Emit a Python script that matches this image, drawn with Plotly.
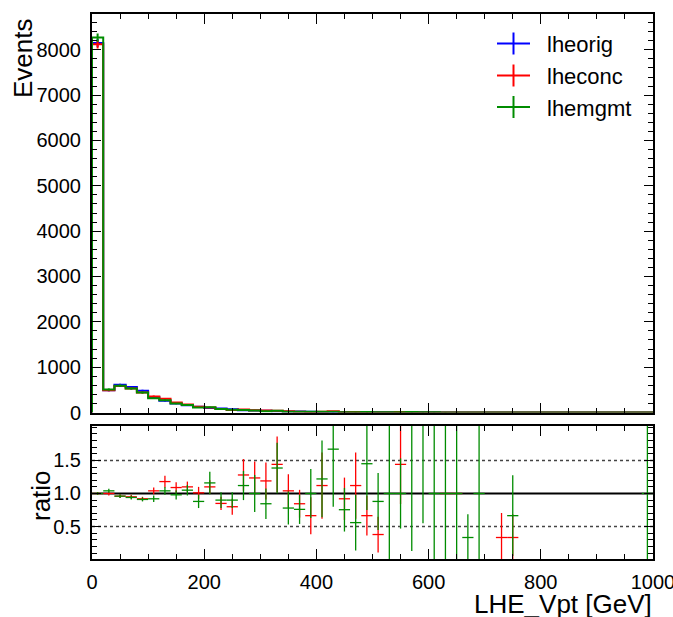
import plotly.graph_objects as go

# ---------------- data ----------------
bin_edges = list(range(0, 1001, 20))  # LHE_Vpt bins [GeV]

lheorig = [8150, 490, 610, 560, 480, 340, 260, 200, 160, 128, 100, 88, 70, 50, 42, 36, 27, 24, 20, 17,
           13, 11, 9, 8, 7, 6, 5, 4, 4, 3, 3, 2.5, 2, 2, 1.5, 1.5, 1.2, 1, 1, 0.8,
           0.8, 0.6, 0.6, 0.5, 0.5, 0.4, 0.4, 0.3, 0.3, 0.3]
lheconc = [8120, 490, 585, 530, 440, 355, 305, 218, 176, 129, 110, 75, 56, 64, 52, 43, 39, 25, 17, 11,
           15, 30, 8, 9, 5, 2, 0, 9, 0, 0, 0, 2.5, 2, 0, 0, 0, 0.4, 0.3, 0, 0,
           0, 0, 0, 0, 0, 0, 0, 0, 0, 0]
lhemgmt = [8270, 505, 590, 530, 440, 315, 270, 196, 168, 113, 116, 79, 63, 56, 42, 30, 37, 19, 15, 17,
           16, 18, 7, 4.5, 9, 5, 5, 4, 10, 7, 3, 2.5, 2, 0.7, 1.5, 0, 0, 0.7, 0, 0,
           0, 0, 0, 0, 0, 0, 0, 0, 0, 0.3]
hist_err = [90, 22, 25, 24, 22, 18, 16, 14, 13, 11, 10, 9, 8, 7, 6, 6, 5, 5, 4, 4,
            4, 3, 3, 3, 3, 2, 2, 2, 2, 2, 2, 2, 1, 1, 1, 1, 1, 1, 1, 1,
            1, 1, 1, 1, 1, 1, 1, 1, 1, 1]

N = None
ratio_conc = [1.00, 1.00, 0.96, 0.95, 0.92, 1.04, 1.18, 1.09, 1.10, 1.01,
              1.10, 0.85, 0.80, 1.28, 1.235, 1.19, 1.44, 1.04, 0.845, 0.665,
              1.12, N, 0.92, 1.12, 0.665, 0.38, N, 1.44, N, N,
              N, 1.0, 1.0, N, N, N, 0.335, 0.335, N, N,
              N, N, N, N, N, N, N, N, N, N]
err_conc = [0.02, 0.03, 0.03, 0.03, 0.03, 0.05, 0.09, 0.08, 0.08, 0.09,
            0.10, 0.10, 0.12, 0.24, 0.25, 0.28, 0.42, 0.25, 0.21, 0.28,
            0.50, 0, 0.32, 0.50, 0.30, 0.27, 0, 0.60, 0, 0,
            0, 0, 0, 0, 0, 0, 0.37, 0.35, 0, 0,
            0, 0, 0, 0, 0, 0, 0, 0, 0, 0]
ratio_mgmt = [1.00, 1.04, 0.96, 0.94, 0.91, 0.92, 1.04, 0.98, 1.05, 0.88,
              1.16, 0.90, 0.90, 1.12, 1.00, 0.845, 1.385, 0.78, 0.76, 1.00,
              1.22, 1.67, 0.755, 0.56, 1.45, 0.88, 1.0, 1.0, 2.5, 2.3,
              1.0, 1.0, 1.0, 0.335, 1.0, N, N, 0.665, N, N,
              N, N, N, N, N, N, N, N, N, 1.0]
err_mgmt = [0.02, 0.03, 0.03, 0.03, 0.03, 0.05, 0.06, 0.07, 0.08, 0.10,
            0.17, 0.12, 0.12, 0.22, 0.28, 0.23, 0.38, 0.25, 0.22, 0.37,
            0.58, 0.87, 0.33, 0.42, 0.70, 0.43, 1.5, 0.53, 2.37, 1.75,
            1.5, 1.5, 1.5, 0.35, 1.5, 0, 0, 0.61, 0, 0,
            0, 0, 0, 0, 0, 0, 0, 0, 0, 1.5]

series = [("lheorig", lheorig, "#0000ff"),
          ("lheconc", lheconc, "#ff0000"),
          ("lhemgmt", lhemgmt, "#008c00")]

FONT = "Liberation Sans, Arial, Helvetica, sans-serif"
W, H = 673, 617
L, R, T, B = 92, 20, 14, 58
PW, PH = W - L - R, H - T - B


def px2x(px):
    return (px - L) / PW


def py2y(py):
    return (H - B - py) / PH


centers = [(bin_edges[i] + bin_edges[i + 1]) / 2 for i in range(len(bin_edges) - 1)]
halfw = [(bin_edges[i + 1] - bin_edges[i]) / 2 for i in range(len(bin_edges) - 1)]

fig = go.Figure()

# upper histograms
for name, vals, col in series:
    xs = [bin_edges[0]] + bin_edges
    ys = [0] + list(vals) + [vals[-1]]
    fig.add_trace(go.Scatter(x=xs, y=ys, mode="lines", line=dict(color=col, width=2, shape="hv"),
                             xaxis="x", yaxis="y", showlegend=False, hoverinfo="skip"))
    fig.add_trace(go.Scatter(x=centers, y=vals, mode="markers", marker=dict(size=1, color=col, opacity=0),
                             error_y=dict(type="data", array=hist_err, color=col, thickness=2, width=0),
                             xaxis="x", yaxis="y", showlegend=False, hoverinfo="skip"))

# ratio points
for vals, errs, col in [(ratio_conc, err_conc, "#ff0000"), (ratio_mgmt, err_mgmt, "#008c00")]:
    fig.add_trace(go.Scatter(x=centers, y=vals, mode="markers",
                             marker=dict(size=1, color=col, opacity=0),
                             error_x=dict(type="data", array=halfw, color=col, thickness=1.3, width=0),
                             error_y=dict(type="data", array=errs, color=col, thickness=1.3, width=0),
                             xaxis="x2", yaxis="y2", showlegend=False, hoverinfo="skip"))

axis_common = dict(showline=True, linewidth=2, linecolor="black", mirror="allticks",
                   ticks="inside", tickcolor="black", tickwidth=1, showgrid=False, zeroline=False,
                   automargin=False,
                   tickfont=dict(family=FONT, size=20, color="black"))
xminor = dict(dtick=50, tick0=0, ticks="inside", ticklen=5, tickcolor="black", showgrid=False)

y_split_top = py2y(412.5)
y_low_top = py2y(426)

fig.update_layout(
    width=W, height=H,
    margin=dict(l=L, r=R, t=T, b=B, autoexpand=False),
    paper_bgcolor="white", plot_bgcolor="white",
    showlegend=False,
    xaxis=dict(domain=[0, 1], anchor="y", range=[0, 1000], tick0=0, dtick=200, ticklen=10,
               minor=xminor, showticklabels=False, **axis_common),
    yaxis=dict(domain=[y_split_top, 1], anchor="x", range=[0, 8790], tick0=0, dtick=1000, ticklen=9,
               minor=dict(dtick=200, tick0=0, ticks="inside", ticklen=5, tickcolor="black", showgrid=False),
               ticklabelstandoff=5, **axis_common),
    xaxis2=dict(domain=[0, 1], anchor="y2", range=[0, 1000], tick0=0, dtick=200, ticklen=10,
                minor=xminor, showticklabels=True, ticklabelstandoff=4, ticklabeloverflow="allow",
                **axis_common),
    yaxis2=dict(domain=[0, y_low_top], anchor="x2", range=[0.01, 2.02],
                tickmode="array", tickvals=[0.5, 1.0, 1.5], ticktext=["0.5", "1.0", "1.5"], ticklen=9,
                minor=dict(tickmode="linear", tick0=0, dtick=0.1, ticks="inside", ticklen=5,
                           tickcolor="black", showgrid=False),
                ticklabelstandoff=5, **axis_common),
)

shapes = []
for yv, dash, wdt in [(0.5, "dot", 1.5), (1.5, "dot", 1.5), (1.0, "solid", 2)]:
    shapes.append(dict(type="line", xref="x2", yref="y2", x0=0, x1=1000, y0=yv, y1=yv,
                       line=dict(color="black" if dash == "solid" else "#444444", width=wdt, dash=dash),
                       layer="below"))

annotations = []
leg_rows = [43.5, 75.5, 107]
for (name, vals, col), ry in zip(series, leg_rows):
    shapes.append(dict(type="line", xref="paper", yref="paper", x0=px2x(497), x1=px2x(530),
                       y0=py2y(ry), y1=py2y(ry), line=dict(color=col, width=2)))
    shapes.append(dict(type="line", xref="paper", yref="paper", x0=px2x(513.5), x1=px2x(513.5),
                       y0=py2y(ry - 11), y1=py2y(ry + 11), line=dict(color=col, width=2)))
    annotations.append(dict(text=name, xref="paper", yref="paper", x=px2x(545), y=py2y(ry + 1),
                            xanchor="left", yanchor="middle", showarrow=False,
                            font=dict(family=FONT, size=22, color="black")))

annotations.append(dict(text="Events", textangle=-90, xref="paper", yref="paper",
                        x=px2x(23), y=py2y(16), xanchor="center", yanchor="top", showarrow=False,
                        font=dict(family=FONT, size=26, color="black")))
annotations.append(dict(text="ratio", textangle=-90, xref="paper", yref="paper",
                        x=px2x(41), y=py2y(496), xanchor="center", yanchor="middle", showarrow=False,
                        font=dict(family=FONT, size=26, color="black")))
annotations.append(dict(text="LHE_Vpt [GeV]", xref="paper", yref="paper",
                        x=px2x(654), y=py2y(604), xanchor="right", yanchor="middle", showarrow=False,
                        font=dict(family=FONT, size=26, color="black")))

fig.update_layout(shapes=shapes, annotations=annotations)

fig.write_html("out.html")
